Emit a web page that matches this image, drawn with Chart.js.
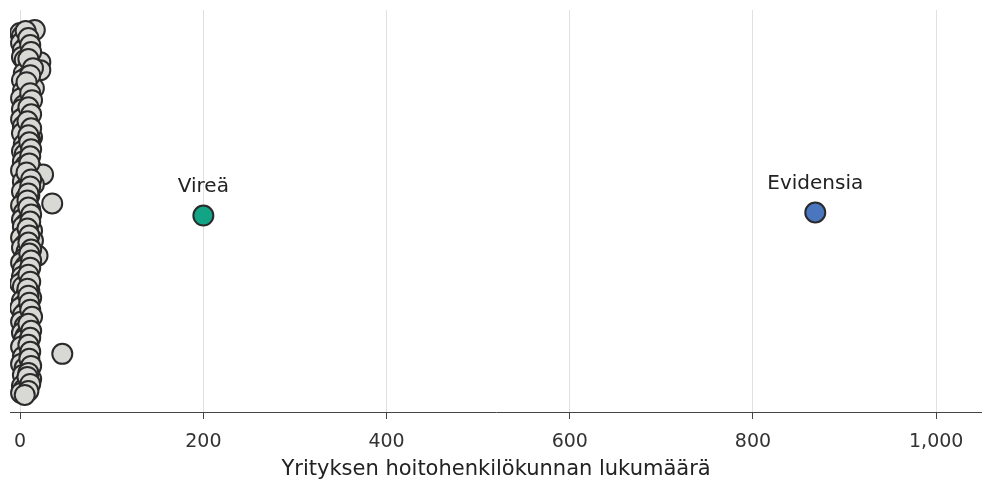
<!DOCTYPE html>
<html>
<head>
<meta charset="utf-8">
<script src="https://cdn.jsdelivr.net/npm/chart.js@4/dist/chart.umd.min.js"></script>
<style>
  html, body { margin: 0; padding: 0; background: #fff; }
  #wrap { width: 982px; height: 480px; }
</style>
</head>
<body>
<div id="wrap"><canvas id="chart" width="982" height="480"></canvas></div>
<script>
// grey dots: staff count per company, plus vertical jitter so they don't all stack
var staffCounts = [16, 0, 2, 4, 1, 6, 3, 8, 2, 5, 22, 10, 22, 4, 7, 2, 12, 15, 3, 6,
  1, 8, 4, 2, 10, 5, 1, 9, 3, 6, 2, 13, 11, 4, 7, 2, 5, 9, 3, 6,
  12, 1, 25, 8, 3, 15, 5, 2, 10, 6, 35, 1, 11, 4, 8, 2, 6, 3, 13, 9,
  1, 14, 5, 2, 7, 19, 4, 1, 6, 3, 8, 2, 5, 0, 3, 10, 7, 12, 2, 4,
  0, 6, 3, 8, 1, 5, 9, 2, 6, 4, 8, 1, 10, 46, 3, 7, 1, 5, 10, 3,
  12, 6, 2, 4, 1,
  6, 9, 11, 12, 9, 14, 11, 7, 11, 13, 9, 12, 8, 12, 9, 10, 12, 11, 10, 7,
  12, 11, 9, 8, 9, 12, 11, 8, 10, 9, 12, 10, 12, 11, 9, 11, 8, 9, 10, 11,
  13, 9, 12, 11, 9, 11, 10, 12, 9, 8, 11, 9, 5];
var jitter = [381, 378, 375, 371, 368, 364, 361, 357, 354, 351, 349, 345, 341, 338, 334, 331, 327, 323, 320, 316,
  313, 309, 306, 302, 299, 295, 292, 288, 285, 281, 278, 274, 271, 267, 264, 260, 257, 253, 250, 246,
  243, 241, 237, 234, 230, 227, 223, 220, 216, 213, 208, 206, 202, 199, 195, 192, 188, 185, 181, 178,
  174, 171, 167, 164, 160, 156, 153, 149, 146, 142, 139, 135, 132, 128, 125, 121, 118, 114, 111, 107,
  104, 100, 97, 93, 90, 86, 83, 79, 76, 72, 69, 65, 62, 58, 55, 51, 48, 44, 41, 37,
  33, 30, 26, 23, 19,
  380, 373, 366, 359, 352, 343, 336, 329, 318, 311, 304, 297, 290, 283, 276, 269, 262, 255, 248, 239,
  232, 225, 218, 211, 204, 197, 190, 183, 176, 169, 162, 158, 151, 144, 137, 130, 123, 116, 109, 102,
  95, 88, 81, 74, 67, 60, 53, 46, 39, 35, 28, 21, 17];

// the two named companies
var namedCompanies = ['Vireä', 'Evidensia'];
var namedStaff = [200, 868];
var namedJitter = [196, 199];
var namedColors = ['#13a385', '#4a76c0'];

var xTicks = [0, 200, 400, 600, 800, 1000];
var FONT = "'DejaVu Sans', sans-serif";

var greyPoints = staffCounts.map(function (v, i) { return { x: v, y: jitter[i] }; });
var namedPoints = namedStaff.map(function (v, i) { return { x: v, y: namedJitter[i] }; });

var nameLabels = {
  id: 'nameLabels',
  afterDatasetsDraw: function (chart) {
    var meta = chart.getDatasetMeta(1);
    var ctx = chart.ctx;
    ctx.save();
    ctx.font = '20px ' + FONT;
    ctx.fillStyle = '#222';
    ctx.textAlign = 'center';
    ctx.textBaseline = 'middle';
    meta.data.forEach(function (pt, i) {
      ctx.fillText(namedCompanies[i], pt.x, pt.y - 29);
    });
    ctx.restore();
  }
};

new Chart(document.getElementById('chart'), {
  type: 'scatter',
  data: {
    datasets: [
      {
        label: 'Muut',
        data: greyPoints,
        backgroundColor: '#d8d8d5',
        borderColor: '#2a2a2a',
        borderWidth: 2,
        pointRadius: 10,
        pointHoverRadius: 10
      },
      {
        label: 'Nimetyt',
        data: namedPoints,
        backgroundColor: namedColors,
        borderColor: '#2a2a2a',
        borderWidth: 2,
        pointRadius: 10,
        pointHoverRadius: 10
      }
    ]
  },
  plugins: [nameLabels],
  options: {
    responsive: false,
    animation: false,
    layout: { autoPadding: false, padding: { left: 10, right: 0, top: 10, bottom: 0 } },
    plugins: { legend: { display: false }, tooltip: { enabled: false } },
    scales: {
      x: {
        type: 'linear',
        min: -11,
        max: 1050,
        afterBuildTicks: function (axis) {
          axis.ticks = xTicks.map(function (v) { return { value: v }; });
        },
        grid: { color: '#e0e0e0', tickColor: '#444', tickLength: 7, lineWidth: 1 },
        border: { color: '#444', width: 1 },
        ticks: {
          color: '#333',
          font: { family: FONT, size: 19, lineHeight: 1 },
          padding: 14,
          maxRotation: 0,
          callback: function (v) { return v.toLocaleString('en-US'); }
        },
        title: {
          display: true,
          text: 'Yrityksen hoitohenkilökunnan lukumäärä',
          color: '#222',
          font: { family: FONT, size: 21, lineHeight: 1 },
          padding: { top: -7, bottom: 0 }
        }
      },
      y: {
        display: false,
        min: 0,
        max: 401
      }
    }
  }
});
</script>
</body>
</html>
